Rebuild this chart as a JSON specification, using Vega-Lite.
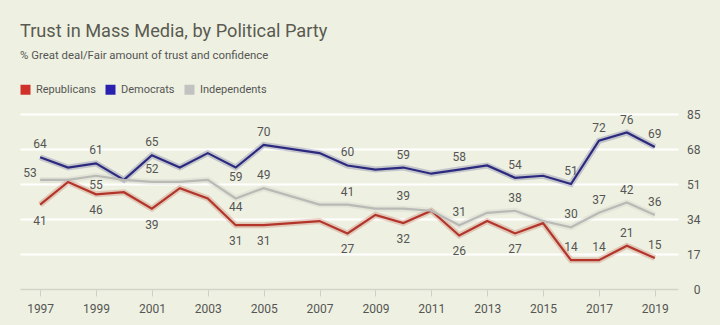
{
  "$schema": "https://vega.github.io/schema/vega-lite/v6.json",
  "width": 658,
  "height": 175,
  "autosize": {"type": "none"},
  "padding": {"left": 20, "top": 114, "right": 42, "bottom": 36},
  "background": "#eef1e1",
  "title": {
    "text": "Trust in Mass Media, by Political Party",
    "subtitle": "% Great deal/Fair amount of trust and confidence",
    "anchor": "start",
    "frame": "group",
    "font": "Roboto",
    "fontSize": 18.2,
    "fontWeight": "normal",
    "color": "#5a5a52",
    "subtitleFont": "Roboto",
    "subtitleFontSize": 11.4,
    "subtitleColor": "#555555",
    "subtitlePadding": 8,
    "offset": 22
  },
  "config": {
    "view": {"stroke": null},
    "font": "Roboto"
  },
  "data": {
    "values": [
      {"year": 1997, "party": "Republicans", "value": 41},
      {"year": 1998, "party": "Republicans", "value": 52},
      {"year": 1999, "party": "Republicans", "value": 46},
      {"year": 2000, "party": "Republicans", "value": 47},
      {"year": 2001, "party": "Republicans", "value": 39},
      {"year": 2002, "party": "Republicans", "value": 49},
      {"year": 2003, "party": "Republicans", "value": 44},
      {"year": 2004, "party": "Republicans", "value": 31},
      {"year": 2005, "party": "Republicans", "value": 31},
      {"year": 2007, "party": "Republicans", "value": 33},
      {"year": 2008, "party": "Republicans", "value": 27},
      {"year": 2009, "party": "Republicans", "value": 36},
      {"year": 2010, "party": "Republicans", "value": 32},
      {"year": 2011, "party": "Republicans", "value": 38},
      {"year": 2012, "party": "Republicans", "value": 26},
      {"year": 2013, "party": "Republicans", "value": 33},
      {"year": 2014, "party": "Republicans", "value": 27},
      {"year": 2015, "party": "Republicans", "value": 32},
      {"year": 2016, "party": "Republicans", "value": 14},
      {"year": 2017, "party": "Republicans", "value": 14},
      {"year": 2018, "party": "Republicans", "value": 21},
      {"year": 2019, "party": "Republicans", "value": 15},
      {"year": 1997, "party": "Democrats", "value": 64},
      {"year": 1998, "party": "Democrats", "value": 59},
      {"year": 1999, "party": "Democrats", "value": 61},
      {"year": 2000, "party": "Democrats", "value": 53},
      {"year": 2001, "party": "Democrats", "value": 65},
      {"year": 2002, "party": "Democrats", "value": 59},
      {"year": 2003, "party": "Democrats", "value": 66},
      {"year": 2004, "party": "Democrats", "value": 59},
      {"year": 2005, "party": "Democrats", "value": 70},
      {"year": 2007, "party": "Democrats", "value": 66},
      {"year": 2008, "party": "Democrats", "value": 60},
      {"year": 2009, "party": "Democrats", "value": 58},
      {"year": 2010, "party": "Democrats", "value": 59},
      {"year": 2011, "party": "Democrats", "value": 56},
      {"year": 2012, "party": "Democrats", "value": 58},
      {"year": 2013, "party": "Democrats", "value": 60},
      {"year": 2014, "party": "Democrats", "value": 54},
      {"year": 2015, "party": "Democrats", "value": 55},
      {"year": 2016, "party": "Democrats", "value": 51},
      {"year": 2017, "party": "Democrats", "value": 72},
      {"year": 2018, "party": "Democrats", "value": 76},
      {"year": 2019, "party": "Democrats", "value": 69},
      {"year": 1997, "party": "Independents", "value": 53},
      {"year": 1998, "party": "Independents", "value": 53},
      {"year": 1999, "party": "Independents", "value": 55},
      {"year": 2000, "party": "Independents", "value": 53},
      {"year": 2001, "party": "Independents", "value": 52},
      {"year": 2002, "party": "Independents", "value": 52},
      {"year": 2003, "party": "Independents", "value": 53},
      {"year": 2004, "party": "Independents", "value": 44},
      {"year": 2005, "party": "Independents", "value": 49},
      {"year": 2007, "party": "Independents", "value": 41},
      {"year": 2008, "party": "Independents", "value": 41},
      {"year": 2009, "party": "Independents", "value": 39},
      {"year": 2010, "party": "Independents", "value": 39},
      {"year": 2011, "party": "Independents", "value": 38},
      {"year": 2012, "party": "Independents", "value": 31},
      {"year": 2013, "party": "Independents", "value": 37},
      {"year": 2014, "party": "Independents", "value": 38},
      {"year": 2015, "party": "Independents", "value": 33},
      {"year": 2016, "party": "Independents", "value": 30},
      {"year": 2017, "party": "Independents", "value": 37},
      {"year": 2018, "party": "Independents", "value": 42},
      {"year": 2019, "party": "Independents", "value": 36}
    ]
  },
  "encoding": {
    "x": {
      "field": "year",
      "type": "quantitative",
      "scale": {"domain": [1996.28, 2019.83], "nice": false, "zero": false},
      "axis": {
        "title": null,
        "values": [1997, 1999, 2001, 2003, 2005, 2007, 2009, 2011, 2013, 2015, 2017, 2019],
        "format": "d",
        "grid": false,
        "labelFont": "Roboto",
        "labelFontSize": 12,
        "labelColor": "#555555",
        "labelPadding": 7,
        "tickColor": "#cfd1c6",
        "tickSize": 7,
        "domainColor": "#d2d4ca",
        "domainWidth": 1.5
      }
    },
    "y": {
      "field": "value",
      "type": "quantitative",
      "scale": {"domain": [0, 85], "nice": false},
      "axis": {
        "title": null,
        "orient": "right",
        "values": [0, 17, 34, 51, 68, 85],
        "domain": false,
        "ticks": false,
        "grid": true,
        "gridColor": {"condition": {"test": "datum.value === 0", "value": "transparent"}, "value": "#ffffff"},
        "gridWidth": 2,
        "labelFont": "Roboto",
        "labelFontSize": 12,
        "labelColor": "#555555",
        "labelAlign": "right",
        "labelPadding": 22
      }
    }
  },
  "layer": [
    {
      "mark": {"type": "line", "strokeWidth": 6, "opacity": 0.22},
      "encoding": {
        "color": {"field": "party", "type": "nominal",
          "scale": {"domain": ["Republicans", "Democrats", "Independents"], "range": ["#b3352a", "#2c2a7e", "#b9b9b6"]}}
      }
    },
    {
      "mark": {"type": "line", "strokeWidth": 2.2},
      "encoding": {
        "color": {
          "field": "party",
          "type": "nominal",
          "scale": {"domain": ["Republicans", "Democrats", "Independents"], "range": ["#b3352a", "#2c2a7e", "#b9b9b6"]},
          "legend": {
            "title": null,
            "orient": "none",
            "legendX": 0,
            "legendY": -30,
            "direction": "horizontal",
            "padding": 0,
            "symbolType": "square",
            "symbolSize": 100,
            "labelFont": "Roboto",
            "labelFontSize": 11,
            "labelColor": "#555555",
            "labelOffset": 5,
            "columnPadding": 9,
            "encode": {
              "symbols": {
                "update": {
                  "fill": {"signal": "datum.value === 'Republicans' ? '#d0302a' : datum.value === 'Democrats' ? '#2a20b0' : '#c2c2c0'"},
                  "stroke": {"value": "transparent"},
                  "strokeWidth": {"value": 0},
                  "opacity": {"value": 1}
                }
              }
            }
          }
        }
      }
    },
    {
      "transform": [{"filter": {"or": [
        {"and": [{"field": "party", "equal": "Democrats"}, {"field": "year", "oneOf": [1997, 1999, 2001, 2005, 2008, 2010, 2012, 2014, 2016, 2017, 2018, 2019]}]},
        {"and": [{"field": "party", "equal": "Independents"}, {"field": "year", "oneOf": [2001, 2005, 2008, 2010, 2012, 2014, 2016, 2017, 2018, 2019]}]},
        {"and": [{"field": "party", "equal": "Republicans"}, {"field": "year", "gte": 2016}]}
      ]}}],
      "mark": {"type": "text", "dy": -13, "fontSize": 12, "font": "Roboto", "color": "#555555", "baseline": "middle"},
      "encoding": {"text": {"field": "value", "type": "quantitative"}}
    },
    {
      "transform": [{"filter": {"and": [{"field": "party", "equal": "Republicans"}, {"field": "year", "oneOf": [1997, 1999, 2001, 2004, 2005, 2008, 2010, 2012, 2014]}]}}],
      "mark": {"type": "text", "dy": 16, "fontSize": 12, "font": "Roboto", "color": "#555555", "baseline": "middle"},
      "encoding": {"text": {"field": "value", "type": "quantitative"}}
    },
    {
      "transform": [{"filter": "(datum.party === 'Democrats' && datum.year === 2004) || (datum.party === 'Independents' && (datum.year === 1999 || datum.year === 2004))"}],
      "mark": {"type": "text", "dy": 9, "fontSize": 12, "font": "Roboto", "color": "#555555", "baseline": "middle"},
      "encoding": {"text": {"field": "value", "type": "quantitative"}}
    },
    {
      "transform": [{"filter": "datum.party === 'Independents' && datum.year === 1997"}],
      "mark": {"type": "text", "dx": -10, "dy": -7, "fontSize": 12, "font": "Roboto", "color": "#555555", "baseline": "middle"},
      "encoding": {"text": {"field": "value", "type": "quantitative"}}
    }
  ]
}
